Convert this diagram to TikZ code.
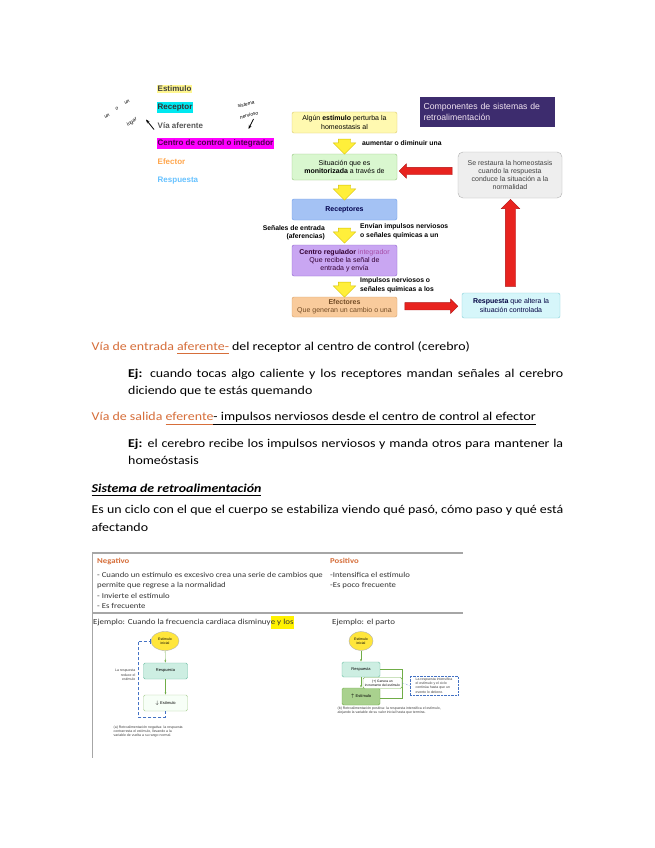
\documentclass[tikz,border=0pt]{standalone}
\usepackage{fontspec}
\setmainfont{Carlito}[FakeStretch=1.16]
\newfontfamily\arialf{Liberation Sans}
\usetikzlibrary{shapes.arrows,shapes.geometric,arrows.meta,positioning,calc}
\definecolor{orangetext}{RGB}{214,110,58}
\definecolor{hlyellow}{RGB}{255,246,143}
\definecolor{hlcyan}{RGB}{0,232,240}
\definecolor{hlmagenta}{RGB}{255,0,255}
\definecolor{stimfill}{RGB}{255,249,176}
\definecolor{stimdraw}{RGB}{217,201,106}
\definecolor{monfill}{RGB}{217,247,207}
\definecolor{mondraw}{RGB}{147,196,125}
\definecolor{recfill}{RGB}{164,194,244}
\definecolor{recdraw}{RGB}{109,158,235}
\definecolor{cenfill}{RGB}{201,166,242}
\definecolor{cendraw}{RGB}{142,99,206}
\definecolor{efffill}{RGB}{249,203,156}
\definecolor{effdraw}{RGB}{217,160,102}
\definecolor{respfill}{RGB}{214,246,250}
\definecolor{respdraw}{RGB}{134,207,216}
\definecolor{restfill}{RGB}{238,238,238}
\definecolor{restdraw}{RGB}{176,176,176}
\definecolor{titlefill}{RGB}{61,44,110}
\definecolor{yarrowfill}{RGB}{255,239,58}
\definecolor{yarrowdraw}{RGB}{212,192,0}
\definecolor{redfill}{RGB}{232,35,31}
\definecolor{reddraw}{RGB}{176,16,16}
\definecolor{tablegray}{RGB}{166,166,166}
\definecolor{minigreen}{RGB}{112,173,71}
\definecolor{minigreenfill}{RGB}{169,209,142}
\definecolor{miniteal}{RGB}{111,191,165}
\definecolor{minitealfill}{RGB}{205,238,226}
\definecolor{miniblue}{RGB}{68,114,196}
\definecolor{miniyellow}{RGB}{255,230,60}
\newcommand\ul[1]{\underline{\vphantom{p}#1}}

\tikzset{
    body/.style={font=\fontsize{12}{15}\selectfont, inner sep=0pt},
    legend/.style={anchor=west, font=\arialf\bfseries\fontsize{8}{9}\selectfont, inner xsep=0.5pt, inner ysep=1.5pt},
    hand/.style={font=\arialf\itshape\fontsize{5}{6}\selectfont, inner sep=0pt},
    fbox/.style={draw, rounded corners=2pt, minimum width=105pt, align=center,
        font=\arialf\fontsize{7}{8.2}\selectfont, inner sep=1pt},
    flabel/.style={font=\arialf\bfseries\fontsize{6.8}{8.5}\selectfont, inner sep=0pt},
    yarrow/.style={single arrow, draw=yarrowdraw, fill=yarrowfill,
        single arrow head extend=5pt, inner sep=0pt, rotate=-90},
    rarrow/.style={single arrow, draw=reddraw, fill=redfill,
        single arrow head extend=3.5pt, inner sep=0pt},
    cell/.style={font=\fontsize{7.5}{9}\selectfont, inner sep=0pt, anchor=base west, text=black!80},
    mini/.style={draw, rounded corners=1.5pt, minimum width=44pt, minimum height=16pt,
        font=\arialf\fontsize{4}{5}\selectfont, inner sep=1pt, align=center},
    miniell/.style={ellipse, draw=black!30, fill=miniyellow, minimum width=28pt, minimum height=19pt,
        font=\arialf\fontsize{3.5}{4}\selectfont, inner sep=0pt, align=center},
    tiny/.style={font=\arialf\fontsize{3.5}{4.2}\selectfont, inner sep=0.5pt, align=left, text=black!75}
}

\begin{document}
\begin{tikzpicture}[x=1pt,y=-1pt]
    \useasboundingbox[fill=white] (0,0) rectangle (655,848);

    % Legend list
    \node[legend, fill=hlyellow, text=black!75] (lstim) at (157,89) {Estimulo};
    \node[legend, fill=hlcyan, text=black!80] (lrec) at (157,107.5) {Receptor};
    \node[legend, text=black!65] (lvia) at (157,125.5) {Vía aferente};
    \node[legend, fill=hlmagenta, text=violet!60!black] (lcen) at (157,143.5) {Centro de control o integrador};
    \node[legend, text=orange!70!white] (leff) at (157,162) {Efector};
    \node[legend, text=blue!40!cyan!60!white] (lresp) at (157,180.5) {Respuesta};

    % Handwritten notes
    \foreach \w/\x/\y [count=\i] in {un/107/116, o/117/109, un/127/102}
        \node[hand, rotate=30] (nw\i) at (\x,\y) {\w};
    \node[hand, rotate=35] (nlugar) at (132,122) {lugar};
    \draw[-{Stealth[length=4pt]}, thick] (lvia.west) ++(-3,4) -- ++(-8,-10);
    \node[hand, rotate=15] (nsis) at (246,104) {sistema};
    \node[hand, rotate=15] (nner) at (249,115) {nervioso};
    \draw[-{Stealth[length=4pt]}, thick] (nner.south) ++(4,2) -- ++(-5,10);

    % Flow chart
    \node[fbox, fill=stimfill, draw=stimdraw, minimum height=21pt] (stim) at (344.5,122.5)
        {Algún \textbf{estímulo} perturba la\\homeostasis al};
    \node[fbox, fill=monfill, draw=mondraw, minimum height=26pt] (mon) at (344.5,167)
        {Situación que es\\\textbf{monitorizada} a través de};
    \node[fbox, fill=recfill, draw=recdraw, minimum height=21pt, text=blue!30!black] (rec) at (344.5,209.5)
        {\textbf{Receptores}};
    \node[fbox, fill=cenfill, draw=cendraw, minimum height=31pt, text=violet!40!black] (cen) at (344.5,260.5)
        {\textbf{Centro regulador} \textcolor{violet!70}{integrador}\\Que recibe la señal de\\entrada y envía};
    \node[fbox, fill=efffill, draw=effdraw, minimum height=20pt, text=brown!60!black] (eff) at (344.5,307)
        {\textbf{Efectores}\\Que generan un cambio o una};
    \node[fbox, fill=respfill, draw=respdraw, minimum width=98pt, minimum height=25pt, text=blue!25!black] (resp) at (511,305.5)
        {\textbf{Respuesta} que altera la\\situación controlada};
    \node[fbox, fill=restfill, draw=restdraw, rounded corners=5pt, minimum width=104pt, minimum height=46pt, text=black!75] (rest) at (510,175)
        {Se restaura la homeostasis\\cuando la respuesta\\conduce la situación a la\\normalidad};
    \node[fill=titlefill, minimum width=135pt, minimum height=30pt, text width=128pt, align=left,
        font=\arialf\fontsize{8.7}{11}\selectfont, text=white!90!violet] (title) at (487.5,112)
        {Componentes de sistemas de\\retroalimentación};

    % Yellow arrows
    \foreach \a/\b in {stim/mon, mon/rec, rec/cen, cen/eff}
        \path (\a.south) -- node[yarrow, minimum height=15pt] {\rule{0pt}{12pt}} (\b.north);

    % Red arrows
    \path (eff.east) -- node[rarrow, minimum height=53pt] {\rule{0pt}{7pt}} (resp.west);
    \path (resp.north) -- node[rarrow, rotate=90, single arrow head extend=4pt, minimum height=87pt] {\rule{0pt}{10pt}} (rest.south);
    \path (rest.west) -- node[rarrow, rotate=180, minimum height=53pt] {\rule{0pt}{7pt}} (mon.east);

    % Arrow labels
    \node[flabel, anchor=base west] (l1) at (362,145) {aumentar o diminuir una};
    \node[flabel, anchor=east, align=right] (l2) at (325,232.5) {Señales de entrada\\(aferencias)};
    \node[flabel, anchor=west, align=left] (l3) at (360,231) {Envían impulsos nerviosos\\o señales químicas a un};
    \node[flabel, anchor=west, align=left] (l4) at (360,285) {Impulsos nerviosos o\\señales químicas a los};

    % Body text
    \node[body, anchor=base west] (afe) at (91.5,350)
        {\textcolor{orangetext}{Vía de entrada \ul{aferente-}} del receptor al centro de control (cerebro)};
    \node[body, anchor=base west] (ej1a) at (128,377.5)
        {\makebox[435pt][s]{\textbf{Ej:} cuando tocas algo caliente y los receptores mandan señales al cerebro}};
    \node[body, anchor=base west] (ej1b) at (128,394) {diciendo que te estás quemando};
    \node[body, anchor=base west] (efe) at (91.5,420.5)
        {\textcolor{orangetext}{Vía de salida \ul{eferente}}\ul{- impulsos nerviosos desde el centro de control al efector}};
    \node[body, anchor=base west] (ej2a) at (128,447)
        {\makebox[435pt][s]{\textbf{Ej:} el cerebro recibe los impulsos nerviosos y manda otros para mantener la}};
    \node[body, anchor=base west] (ej2b) at (128,464) {homeóstasis};
    \node[body, anchor=base west] (sis) at (91.5,492) {\textbf{\textit{\ul{Sistema de retroalimentación}}}};
    \node[body, anchor=base west] (ciclo) at (91.5,513)
        {Es un ciclo con el que el cuerpo se estabiliza viendo qué pasó, cómo paso y qué está};
    \node[body, anchor=base west] (afec) at (91.5,531) {afectando};

    % Table
    \draw[tablegray, line width=2pt] (92,553) -- (463,553);
    \draw[tablegray, line width=1.5pt] (92,613) -- (463,613);
    \draw[tablegray, line width=0.6pt] (92,553) -- (92,758);
    \node[cell, font=\bfseries\fontsize{7.5}{9}\selectfont, text=orangetext] (neg) at (97,563) {Negativo};
    \node[cell, font=\bfseries\fontsize{7.5}{9}\selectfont, text=orangetext] (pos) at (330,563) {Positivo};
    \node[cell] (n1) at (97,577) {- Cuando un estímulo es excesivo crea una serie de cambios que};
    \node[cell] (n2) at (97,587.5) {permite que regrese a la normalidad};
    \node[cell] (n3) at (97,598) {- Invierte el estímulo};
    \node[cell] (n4) at (97,608.5) {- Es frecuente};
    \node[cell] (p1) at (330,577) {-Intensifica el estímulo};
    \node[cell] (p2) at (330,587.5) {-Es poco frecuente};
    \node[cell, font=\fontsize{7.7}{9}\selectfont] (ejn) at (93,624.5)
        {Ejemplo: Cuando la frecuencia cardiaca disminuy\colorbox{yellow}{\kern-3pt e y los\kern-3pt}};
    \node[cell, font=\fontsize{7.7}{9}\selectfont] (ejp) at (332,624.5) {Ejemplo: el parto};

    % Negative feedback example
    \node[miniell] (nstim) at (165,641) {Estímulo\\inicial};
    \node[mini, draw=miniteal, fill=minitealfill] (nresp) at (165.5,671) {Respuesta};
    \node[mini, draw=minigreen!60, fill=green!3] (nbaja) at (165.5,703) {$\downarrow$ Estímulo};
    \draw[minigreen, -{Latex[length=2.5pt]}] (nstim) -- (nresp);
    \draw[minigreen, -{Latex[length=2.5pt]}] (nresp) -- (nbaja);
    \coordinate (nc1) at (138,717);
    \coordinate (nc2) at (138,641);
    \draw[miniblue, densely dashed, -{Bar[width=5pt]}] (nbaja.south) |- (nc1) -- (nc2) -- (nstim.west);
    \node[tiny, anchor=east, align=right] (nnota) at (136,675) {La respuesta\\reduce el\\estímulo};
    \node[tiny, anchor=north west] (ncap) at (113,725)
        {(a) Retroalimentación negativa: la respuesta\\contrarresta el estímulo, llevando a la\\variable de vuelta a su rango normal.};

    % Positive feedback example
    \node[miniell, minimum width=24pt] (pstim) at (361,641) {Estímulo\\inicial};
    \node[mini, draw=miniteal, fill=minitealfill, minimum width=38pt, minimum height=15pt] (presp) at (361,669.5) {Respuesta};
    \node[mini, draw=minigreen, fill=minigreenfill, minimum width=38pt, minimum height=17pt] (psube) at (361,696.5) {$\uparrow$ Estímulo};
    \draw[minigreen, -{Latex[length=2.5pt]}] (pstim) -- (presp);
    \draw[minigreen, -{Latex[length=2.5pt]}] (presp) -- (psube);
    \coordinate (pc1) at (402,669.5);
    \coordinate (pc2) at (402,698);
    \draw[minigreen] (presp.east) -- (pc1) -- (pc2) -- (psube.east |- pc2);
    \node[mini, draw=minigreen, fill=white, minimum width=39pt, minimum height=11pt, font=\arialf\fontsize{3.3}{4}\selectfont] (pgen) at (382.5,683)
        {(+) Genera un\\incremento del estímulo};
    \node[tiny, draw=miniblue, densely dotted, fill=white, minimum width=48pt, minimum height=19pt] (pnota) at (434,685.5)
        {La respuesta intensifica\\el estímulo y el ciclo\\continúa hasta que un\\evento lo detiene.};
    \draw[miniblue, densely dotted] (pgen.east) -- (pnota.west);
    \node[tiny, anchor=north west] (pcap) at (337,706)
        {(b) Retroalimentación positiva: la respuesta intensifica el estímulo,\\alejando la variable de su valor inicial hasta que termina.};
\end{tikzpicture}
\end{document}
